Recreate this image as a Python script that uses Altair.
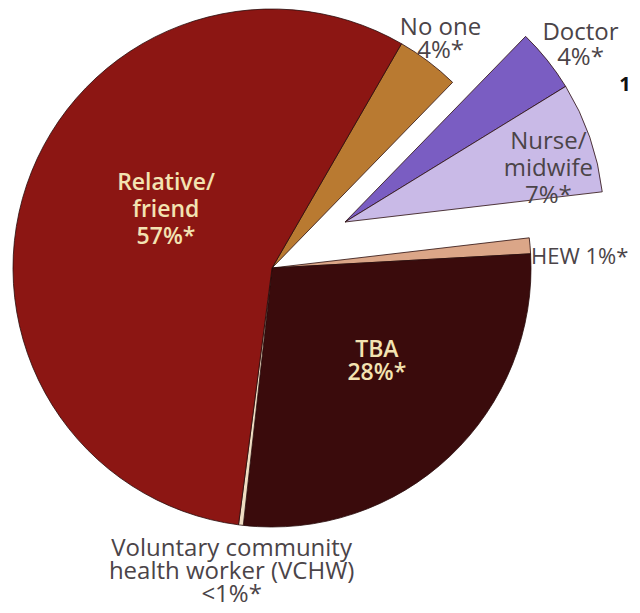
import math
import altair as alt
import pandas as pd

# ---- data ----
categories = ["No one", "Doctor", "Nurse/midwife", "HEW", "TBA", "VCHW", "Relative/friend"]
values = [4, 4, 7, 1, 28, 0.3, 57]
labels = [
    "No one\n4%*",
    "Doctor\n4%*",
    "Nurse/\nmidwife\n7%*",
    "HEW 1%*",
    "TBA\n28%*",
    "Voluntary community\nhealth worker (VCHW)\n<1%*",
    "Relative/\nfriend\n57%*",
]
exploded = [False, True, True, False, False, False, False]
colors = ["#B97A31", "#7A5DC2", "#C9BAE7", "#DBA688", "#3A0B0C", "#EFDCC2", "#8C1613"]

df = pd.DataFrame({
    "cat": categories,
    "value": values,
    "label": labels,
    "ord": list(range(len(categories))),
    "exploded": exploded,
})

total = float(sum(values))
START = math.radians(30)
theta_scale = alt.Scale(domain=[0, total], range=[START, START + 2 * math.pi])
color_scale = alt.Scale(domain=categories, range=colors)

FONT = "Open Sans"
CX, CY = 264, 260      # main pie centre
EX, EY = 337, 214      # centre of the pulled-out wedge
R = 259

base = alt.Chart(df).transform_window(
    cum="sum(value)", sort=[alt.SortField("ord")], frame=[None, 0]
).transform_calculate(
    start="datum.cum - datum.value",
    mid="datum.cum - datum.value / 2",
)


def arcs(is_exp, cx, cy):
    test = "datum.exploded" if is_exp else "!datum.exploded"
    return base.transform_filter(test).mark_arc(
        outerRadius=R, stroke="#2a0c0c", strokeWidth=0.8
    ).encode(
        theta=alt.Theta("start:Q", scale=theta_scale),
        theta2=alt.Theta2("cum:Q"),
        color=alt.Color("cat:N", scale=color_scale, legend=None),
        x=alt.value(cx),
        y=alt.value(cy),
    )


def label(cat, radius, dx, dy, size, lh, color, weight="normal", align="center", exp=False):
    cx, cy = (EX, EY) if exp else (CX, CY)
    return base.transform_filter(alt.datum.cat == cat).mark_text(
        radius=radius, dx=dx, dy=dy, fontSize=size, lineHeight=lh, color=color,
        fontWeight=weight, align=align, baseline="middle", lineBreak="\n", font=FONT,
    ).encode(
        theta=alt.Theta("mid:Q", scale=theta_scale),
        text="label:N",
        x=alt.value(cx),
        y=alt.value(cy),
    )


INNER = "#F3E3B2"
OUTER = "#4B4448"

layers = [
    arcs(False, CX, CY),
    arcs(True, EX, EY),
    label("Relative/friend", 121, 8.6, -46, 23, 27, INNER, weight=600),
    label("TBA", 141, 8, -20.5, 23, 23, INNER, weight=600),
    label("No one", 286, -4, -11.5, 24, 23, OUTER),
    label("Doctor", 294, 6, -5.5, 24, 25, OUTER, exp=True),
    label("Nurse/midwife", 210, 5, -11, 24, 27, OUTER, exp=True),
    label("HEW", 260, 0, 11, 22, 23, OUTER, align="left"),
    label("VCHW", 311, -3, -28, 24, 23, OUTER),
]

corner = alt.Chart(pd.DataFrame({"t": ["1"]})).mark_text(
    fontSize=20, fontWeight="bold", color="#111111", font=FONT, baseline="middle"
).encode(text="t:N", x=alt.value(617), y=alt.value(77))
layers.append(corner)

chart = alt.layer(*layers).properties(
    width=624, height=597, padding=0, autosize="none", background="white"
).configure_view(stroke=None)

chart.save("out.html", embed_options={"renderer": "svg", "actions": False})
